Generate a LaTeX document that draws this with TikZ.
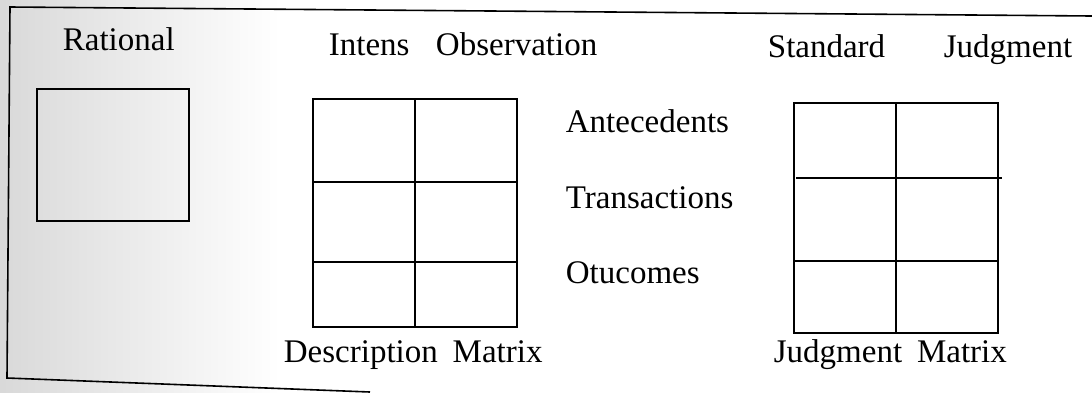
\documentclass[tikz,border=0pt]{standalone}
\usepackage{fontspec}
\setmainfont{Liberation Serif}
\begin{document}
\begin{tikzpicture}[x=1pt,y=-1pt,line width=1.8pt,
  every node/.style={font=\fontsize{33}{38}\selectfont,inner sep=0pt},
  lbl/.style={anchor=base west},
  gridbox/.style={draw,anchor=north west,minimum width=204pt,minimum height=#1}]
  \useasboundingbox (0,0) rectangle (1092,392);
  \shade[left color=gray!30,right color=white,draw=none] (0,0) rectangle (280,392);
  % page frame
  \draw[line width=1.6pt] (1092,16) -- (10,7) -- (7,378) -- (370,392);
  % headings
  \node[lbl] (rational) at (62,50) {Rational};
  \node[lbl] (intens) at (328,55) {Intens\hspace{0.8em}Observation};
  \node[lbl] (standard) at (767,57) {Standard};
  \node[lbl] (judg) at (943,57) {Judgment};
  % rational box
  \node[draw,anchor=north west,minimum width=152pt,minimum height=132pt] (ratbox) at (36,88) {};
  % description matrix
  \node[gridbox=228pt] (desc) at (312,98) {};
  \draw (desc.north) -- (desc.south);
  \draw (desc.west |- 0,182) -- (desc.east |- 0,182);
  \draw (desc.west |- 0,262) -- (desc.east |- 0,262);
  \node[lbl] (descname) at (283,362) {Description\hspace{0.45em}Matrix};
  % row labels
  \node[lbl] (ante) at (565,132) {Antecedents};
  \node[lbl] (trans) at (565,208) {Transactions};
  \node[lbl] (outc) at (565,283) {Otucomes};
  % judgment matrix
  \node[gridbox=230pt] (judm) at (793,102) {};
  \draw (judm.north) -- (judm.south);
  \draw ([xshift=3pt]judm.west |- 0,178) -- ([xshift=3pt]judm.east |- 0,178);
  \draw (judm.west |- 0,261) -- (judm.east |- 0,261);
  \node[lbl] (judmname) at (773,362) {Judgment\hspace{0.45em}Matrix};
\end{tikzpicture}
\end{document}
